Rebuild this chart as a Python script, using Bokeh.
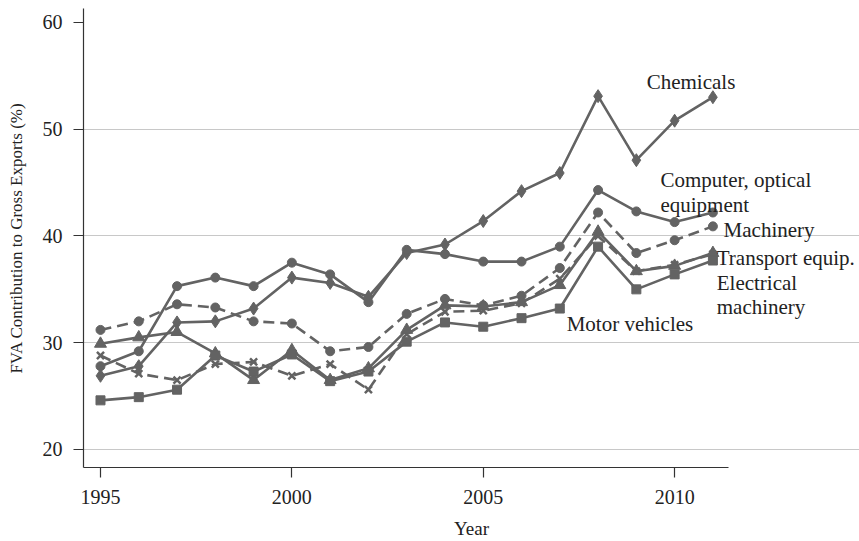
from bokeh.plotting import figure
from bokeh.models import FixedTicker, ColumnDataSource
from bokeh.core.properties import value
from bokeh.embed import file_html
from bokeh.resources import INLINE

years = list(range(1995, 2012))

chemicals = [26.9, 27.8, 31.9, 32.0, 33.2, 36.1, 35.6, 34.3, 38.4, 39.2, 41.4, 44.2, 45.9, 53.1, 47.1, 50.8, 53.0]
computer = [27.8, 29.2, 35.3, 36.1, 35.3, 37.5, 36.4, 33.8, 38.7, 38.3, 37.6, 37.6, 39.0, 44.3, 42.3, 41.3, 42.2]
machinery = [31.2, 32.0, 33.6, 33.3, 32.0, 31.8, 29.2, 29.6, 32.7, 34.1, 33.5, 34.4, 37.0, 42.2, 38.4, 39.6, 40.9]
transport = [28.8, 27.1, 26.5, 28.0, 28.2, 26.9, 28.0, 25.6, 30.8, 32.9, 33.0, 33.7, 36.0, 40.0, 36.7, 37.3, 38.3]
electrical = [29.9, 30.5, 31.0, 29.0, 26.5, 29.3, 26.5, 27.6, 31.2, 33.5, 33.4, 33.8, 35.4, 40.4, 36.7, 37.2, 38.4]
motor = [24.6, 24.9, 25.6, 28.8, 27.3, 28.9, 26.4, 27.3, 30.1, 31.9, 31.5, 32.3, 33.2, 39.0, 35.0, 36.4, 37.7]

label_text = ["Chemicals", "Computer, optical", "equipment", "Machinery",
              "Transport equip.", "Electrical", "machinery", "Motor vehicles"]
label_x = [2009.27, 2009.63, 2009.63, 2011.28, 2011.10, 2011.10, 2011.10, 2007.18]
label_y = [54.45, 45.27, 42.93, 40.59, 37.96, 35.62, 33.37, 31.78]

x_ticks = [1995, 2000, 2005, 2010]
y_ticks = [20, 30, 40, 50, 60]
grid_ticks = [20, 30, 40, 50]

COL = "#636363"
FONT = "Liberation Serif"

p = figure(width=859, height=541, output_backend="svg", toolbar_location=None,
           x_range=(1994.556, 2014.83), y_range=(18.31, 61.31),
           min_border_left=83, min_border_right=0, min_border_top=8, min_border_bottom=74)
p.outline_line_color = None
p.background_fill_color = "white"
p.border_fill_color = "white"

p.xgrid.visible = False
p.ygrid.ticker = FixedTicker(ticks=grid_ticks)
p.ygrid.grid_line_color = "#c8c8c8"
p.ygrid.grid_line_width = 1
p.ygrid.bounds = (1994.556, 2011.4)

for ax in (p.xaxis[0], p.yaxis[0]):
    ax.axis_line_color = "#333333"
    ax.axis_line_width = 1.2
    ax.major_tick_line_color = "#333333"
    ax.major_tick_line_width = 1.2
    ax.major_tick_out = 10
    ax.major_tick_in = 0
    ax.minor_tick_line_color = None
    ax.major_label_text_font = FONT
    ax.major_label_text_font_size = "20px"
    ax.major_label_text_color = "#222222"
    ax.axis_label_text_font = FONT
    ax.axis_label_text_font_style = "normal"
    ax.axis_label_text_color = "#222222"

p.xaxis.axis_label_text_font_size = "19px"
p.yaxis.axis_label_text_font_size = "17px"
p.xaxis.ticker = FixedTicker(ticks=x_ticks)
p.yaxis.ticker = FixedTicker(ticks=y_ticks)
p.xaxis.bounds = (1994.556, 2011.4)
p.xaxis.axis_label = "Year"
p.yaxis.axis_label = "FVA Contribution to Gross Exports (%)"
p.xaxis.major_label_standoff = 12
p.xaxis.axis_label_standoff = 11
p.yaxis.major_label_standoff = 11
p.yaxis.axis_label_standoff = 14

LW = 2.6
DASH = "11 6"

p.line(years, chemicals, line_color=COL, line_width=LW)
p.scatter(years, chemicals, marker="diamond", size=13, color=COL)

p.line(years, computer, line_color=COL, line_width=LW)
p.scatter(years, computer, marker="circle", size=9, color=COL)

p.line(years, machinery, line_color=COL, line_width=LW, line_dash=DASH)
p.scatter(years, machinery, marker="circle", size=9, color=COL)

p.line(years, transport, line_color=COL, line_width=LW, line_dash=DASH)
p.scatter(years, transport, marker="x", size=10, line_color=COL, line_width=2.5)

p.line(years, electrical, line_color=COL, line_width=LW)
p.scatter(years, electrical, marker="triangle", size=12, color=COL)

p.line(years, motor, line_color=COL, line_width=LW)
p.scatter(years, motor, marker="square", size=9, color=COL)

src = ColumnDataSource(dict(x=label_x, y=label_y, t=label_text))
p.text(x="x", y="y", text="t", source=src, text_font=value(FONT), text_font_size="21px",
       text_color="#222222", text_baseline="alphabetic", text_align="left")

open("out.html", "w").write(file_html(p, INLINE))
